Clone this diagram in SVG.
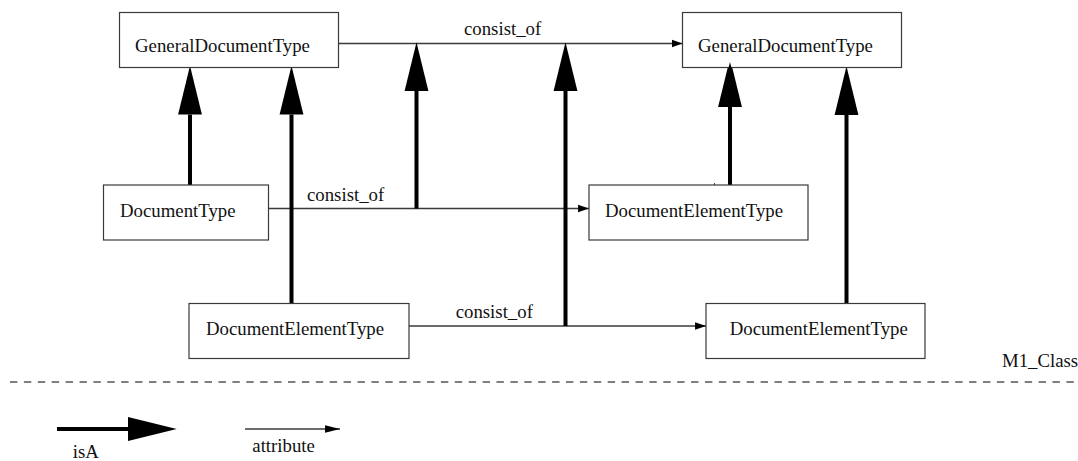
<svg xmlns="http://www.w3.org/2000/svg" width="1078" height="461" viewBox="0 0 1078 461">
  <style>
    .box { fill: #ffffff; stroke: #3a3a3a; stroke-width: 1.2; }
    .lbl { font-family: "Liberation Serif", "Times New Roman", serif; font-size: 18.8px; fill: #111111; }
    .attr { stroke: #3a3a3a; stroke-width: 1.3; fill: none; }
    .isa { stroke: #000000; stroke-width: 4; fill: none; }
  </style>
  <defs>
    <!-- thick generalisation arrowhead, starts where the line ends -->
    <marker id="isaHead" markerUnits="userSpaceOnUse" markerWidth="50" markerHeight="26" viewBox="0 -12 46 24" refX="0" refY="0" orient="auto">
      <path d="M0,-11 L45,0 L0,11 z" fill="#000000"/>
    </marker>
    <!-- small attribute arrowhead, tip on the line end -->
    <marker id="attrHead" markerUnits="userSpaceOnUse" markerWidth="12" markerHeight="10" viewBox="0 -4 11 8" refX="10" refY="0" orient="auto">
      <path d="M0,-3.5 L10,0 L0,3.5 z" fill="#000000"/>
    </marker>
    <marker id="attrHeadLg" markerUnits="userSpaceOnUse" markerWidth="16" markerHeight="10" viewBox="0 -4 15 8" refX="14" refY="0" orient="auto">
      <path d="M0,-3.5 L14,0 L0,3.5 z" fill="#000000"/>
    </marker>
  </defs>

  <!-- connectors -->
  <g id="connectors">
    <!-- consist_of attributes -->
    <line class="attr" x1="338.5" y1="43.5" x2="682.5" y2="43.5" marker-end="url(#attrHead)"/>
    <line class="attr" x1="268.5" y1="208.5" x2="589" y2="208.5" marker-end="url(#attrHead)"/>
    <line class="attr" x1="409" y1="326" x2="706" y2="326" marker-end="url(#attrHead)"/>
    <text class="lbl" x="464" y="35">consist_of</text>
    <text class="lbl" x="307" y="200.7">consist_of</text>
    <text class="lbl" x="455.7" y="317.7">consist_of</text>

    <!-- isA links -->
    <line class="isa" x1="190" y1="185" x2="190" y2="114.5" marker-end="url(#isaHead)"/>
    <line class="isa" x1="291.5" y1="303.5" x2="291.5" y2="114.5" marker-end="url(#isaHead)"/>
    <line class="isa" x1="416.5" y1="208.5" x2="416.5" y2="91" marker-end="url(#isaHead)"/>
    <line class="isa" x1="565.5" y1="326" x2="565.5" y2="91" marker-end="url(#isaHead)"/>
    <line class="isa" x1="730" y1="185" x2="730" y2="107" marker-end="url(#isaHead)"/>
    <line class="isa" x1="846.5" y1="303.5" x2="846.5" y2="115" marker-end="url(#isaHead)"/>
  </g>

  <!-- nodes -->
  <g id="generalDocumentTypeLeft">
    <rect class="box" x="119.5" y="12.5" width="219" height="55"/>
    <text class="lbl" x="135" y="52">GeneralDocumentType</text>
  </g>
  <g id="generalDocumentTypeRight">
    <rect class="box" x="682.5" y="12.5" width="219" height="55"/>
    <text class="lbl" x="698" y="52">GeneralDocumentType</text>
  </g>
  <!-- isA arrowhead overlapping the right box edge -->
  <path d="M730,62 L741,107 L719,107 z" fill="#000000"/>
  <g id="documentType">
    <rect class="box" x="103.5" y="185" width="165" height="55"/>
    <text class="lbl" x="120" y="216.7">DocumentType</text>
  </g>
  <g id="documentElementTypeMid">
    <rect class="box" x="589" y="185" width="219" height="55"/>
    <text class="lbl" x="605" y="216.7">DocumentElementType</text>
    <line x1="714.5" y1="183" x2="714.5" y2="185" stroke="#3a3a3a" stroke-width="1"/>
  </g>
  <g id="documentElementTypeLeft">
    <rect class="box" x="189" y="303.5" width="220" height="55"/>
    <text class="lbl" x="206" y="335">DocumentElementType</text>
  </g>
  <g id="documentElementTypeRight">
    <rect class="box" x="706" y="303.5" width="219" height="55"/>
    <text class="lbl" x="729.7" y="335">DocumentElementType</text>
  </g>

  <!-- level separator -->
  <g id="levelSeparator">
    <text class="lbl" x="1002" y="367">M1_Class</text>
    <line x1="10" y1="382" x2="1078" y2="382" stroke="#555555" stroke-width="1.5" stroke-dasharray="7.4 6.5"/>
  </g>

  <!-- legend -->
  <g id="legend">
    <line class="isa" x1="57" y1="429" x2="128" y2="429" marker-end="url(#isaHead)"/>
    <text class="lbl" x="72.7" y="458">isA</text>
    <line class="attr" x1="245" y1="429" x2="340" y2="429" marker-end="url(#attrHeadLg)"/>
    <text class="lbl" x="252.3" y="451.7">attribute</text>
  </g>
</svg>
